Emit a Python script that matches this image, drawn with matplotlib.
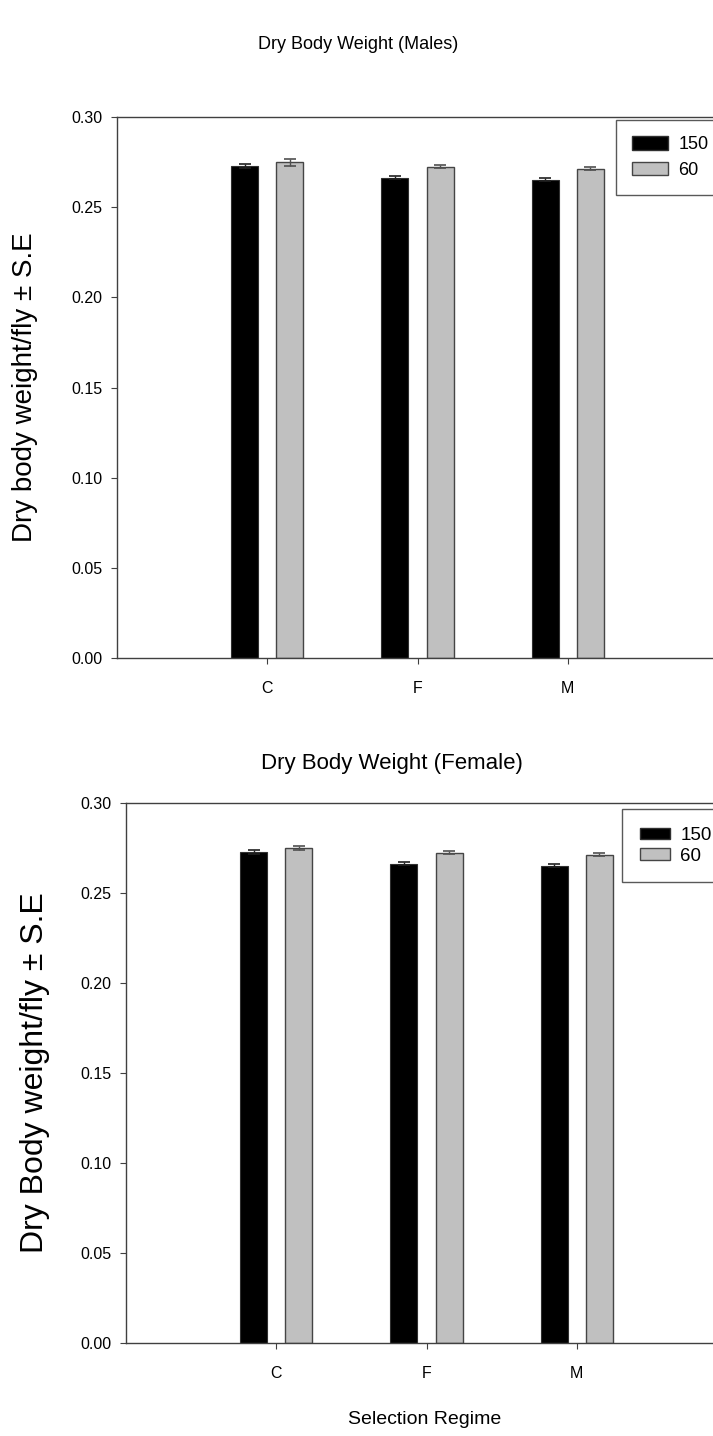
import matplotlib
matplotlib.use("Agg")
import matplotlib.pyplot as plt
import numpy as np
from matplotlib.patches import Patch

plt.rcParams['font.family'] = ['Liberation Sans', 'DejaVu Sans']

categories = ["C", "F", "M"]
series_names = ["150", "60"]
male_150 = [0.2727, 0.2663, 0.2651]
male_60 = [0.2748, 0.2725, 0.2712]
male_150_se = [0.0010, 0.0008, 0.0008]
male_60_se = [0.0018, 0.0008, 0.0008]
female_150 = [0.2727, 0.2663, 0.2651]
female_60 = [0.2750, 0.2725, 0.2712]
female_150_se = [0.0010, 0.0008, 0.0008]
female_60_se = [0.0012, 0.0008, 0.0008]
yticks = [0.00, 0.05, 0.10, 0.15, 0.20, 0.25, 0.30]

W, H = 713, 1436
fig = plt.figure(figsize=(W / 100, H / 100), dpi=100)

def px_axes(left, top, right, bottom):
    return fig.add_axes([left / W, 1 - bottom / H, (right - left) / W, (bottom - top) / H])

def draw(ax, v150, v60, e150, e60):
    x = np.arange(len(categories))
    width, off = 0.18, 0.151
    ax.bar(x - off, v150, width, color="black", edgecolor="#303030", linewidth=0.8, zorder=2)
    ax.bar(x + off, v60, width, color="#c0c0c0", edgecolor="#454545", linewidth=1.0, zorder=2)
    ax.errorbar(x - off, v150, yerr=e150, fmt="none", ecolor="#202020", elinewidth=1, capsize=4.5, capthick=1.2, zorder=3)
    ax.errorbar(x + off, v60, yerr=e60, fmt="none", ecolor="#505050", elinewidth=1, capsize=4.5, capthick=1.2, zorder=3)
    ax.set_xlim(-1, 3)
    ax.set_ylim(0, 0.30)
    ax.set_yticks(yticks)
    ax.set_yticklabels([f"{t:.2f}" for t in yticks])
    ax.set_xticks(x)
    ax.set_xticklabels(categories)
    ax.tick_params(axis="y", direction="out", length=4, width=0.8, labelsize=11.5, pad=6.5, color="#404040")
    ax.tick_params(axis="x", direction="out", length=4.5, width=0.8, labelsize=11.5, pad=12, color="#404040")
    for s in ["left", "bottom", "top"]:
        ax.spines[s].set_color("#404040")
        ax.spines[s].set_linewidth(1.0)
    ax.spines["right"].set_visible(False)

def legend(ax, x0, y0, fs, bp, ls, hh, hl):
    h = [Patch(facecolor="black", edgecolor="#303030"), Patch(facecolor="#c0c0c0", edgecolor="#454545")]
    leg = ax.legend(h, series_names, loc="upper left", bbox_to_anchor=(x0 / W, 1 - y0 / H), bbox_transform=fig.transFigure,
                    frameon=True, fancybox=False, fontsize=fs, handlelength=hl, handleheight=hh, borderpad=bp,
                    labelspacing=ls, handletextpad=0.55, borderaxespad=0)
    leg.get_frame().set_edgecolor("#303030")
    leg.get_frame().set_linewidth(1.0)
    leg.set_zorder(5)

# Top chart (Males)
ax1 = px_axes(117, 117, 718, 658)
draw(ax1, male_150, male_60, male_150_se, male_60_se)
legend(ax1, 616, 120, 13, 0.9, 0.45, 0.8, 2.0)
fig.text(358 / W, 1 - 49 / H, "Dry Body Weight (Males)", ha="center", va="baseline", fontsize=13)
fig.text(25 / W, 1 - 387 / H, "Dry body weight/fly \u00b1 S.E", ha="center", va="center", rotation=90, fontsize=20)

# Bottom chart (Female)
ax2 = px_axes(126, 803, 727, 1343)
draw(ax2, female_150, female_60, female_150_se, female_60_se)
legend(ax2, 622, 809, 13.5, 0.95, 0.2, 0.55, 1.6)
fig.text(392 / W, 1 - 769 / H, "Dry Body Weight (Female)", ha="center", va="baseline", fontsize=16)
fig.text(35 / W, 1 - 1073 / H, "Dry Body weight/fly \u00b1 S.E", ha="center", va="center", rotation=90, fontsize=23)
fig.text(425 / W, 1 - 1420 / H, "Selection Regime", ha="center", va="center", fontsize=14)

fig.savefig("out.png", dpi=100)
